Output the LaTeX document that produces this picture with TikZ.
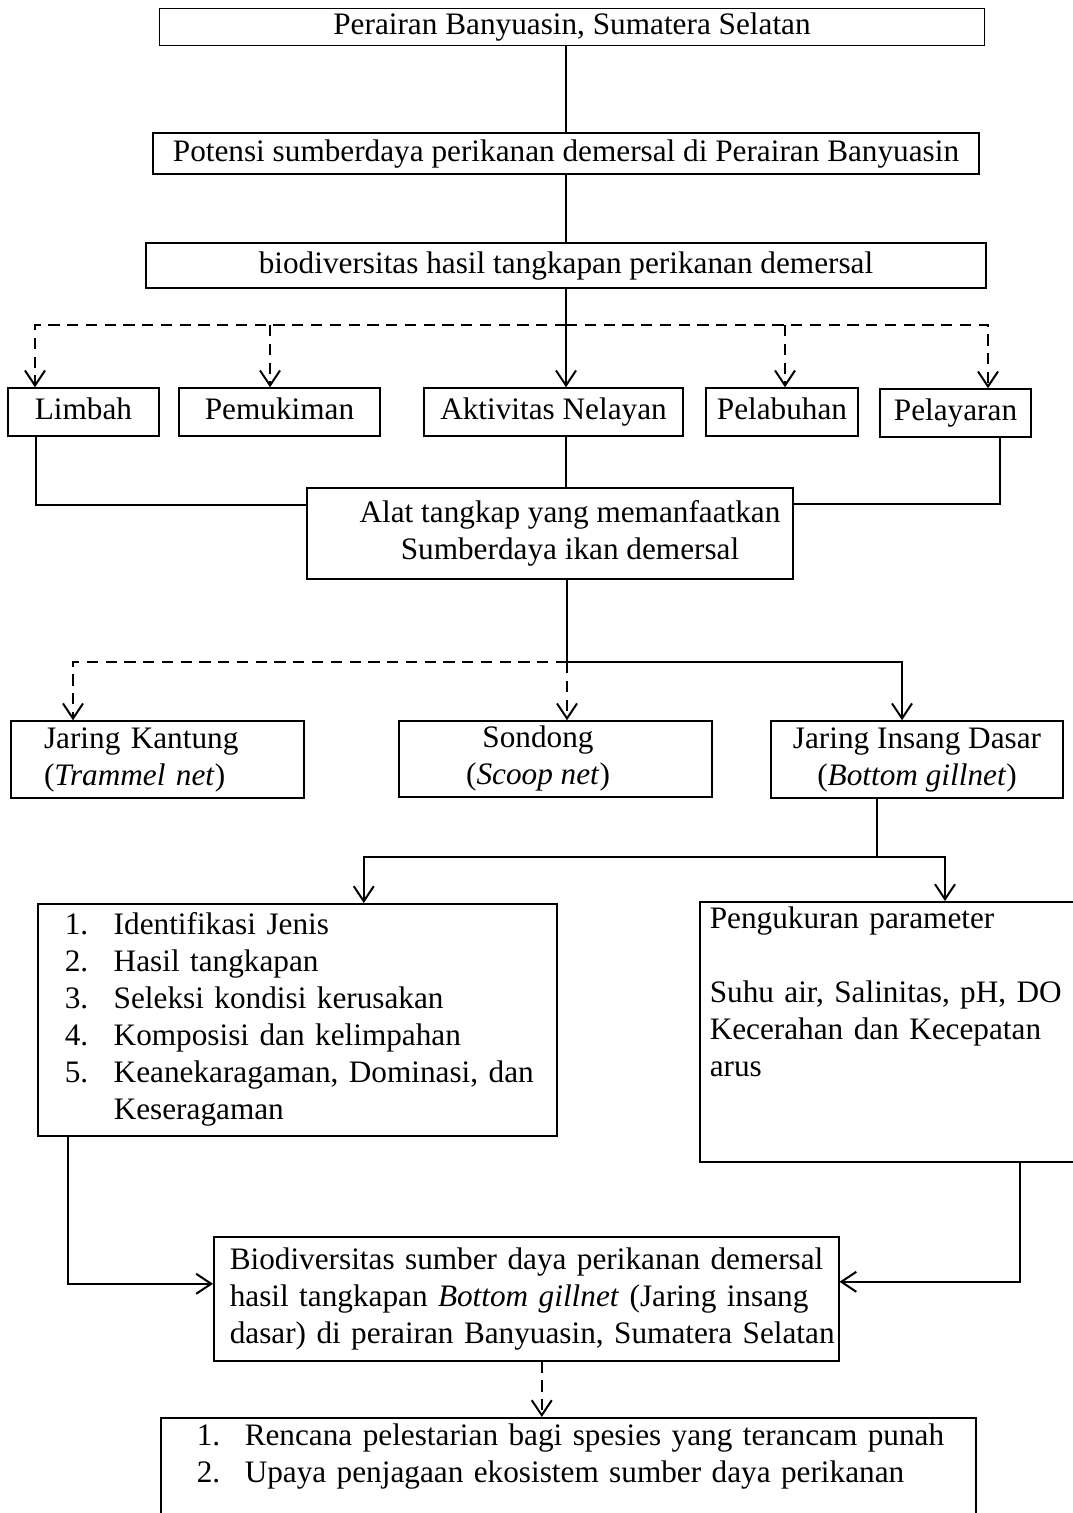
\documentclass[tikz,border=0pt]{standalone}
\usepackage{fontspec}
\setmainfont{Liberation Serif}
\usetikzlibrary{arrows.meta}

\begin{document}
\begin{tikzpicture}[x=0.4pt, y=-0.4pt, >={Straight Barb[length=6pt,width=8pt]}, font=\fontsize{12.5}{14.8}\selectfont]
    \tikzstyle{box} = [rectangle, draw, line width=0.6pt, inner sep=0pt, text centered]
    \tikzstyle{rowbox} = [box, text height=9pt, text depth=3pt]
    \tikzstyle{line} = [draw, line width=0.8pt]
    \tikzstyle{dline} = [draw, line width=0.8pt, dash pattern=on 4.5pt off 3pt]

    \path[use as bounding box, clip] (0,0) rectangle (1073,1513);

    \node[rowbox, minimum width=330pt, minimum height=14.8pt] (perairan) at (572,27) {Perairan Banyuasin, Sumatera Selatan};
    \node[rowbox, minimum width=330.4pt, minimum height=16.4pt] (potensi) at (566,153.5) {Potensi sumberdaya perikanan demersal di Perairan Banyuasin};
    \node[rowbox, minimum width=336pt, minimum height=18pt] (biodiv) at (566,265.5) {biodiversitas hasil tangkapan perikanan demersal};

    \node[rowbox, minimum width=60.4pt, minimum height=19.2pt] (limbah) at (83.5,412) {Limbah};
    \node[rowbox, minimum width=80.4pt, minimum height=19.2pt] (pemukiman) at (279.5,412) {Pemukiman};
    \node[rowbox, minimum width=103.6pt, minimum height=19.2pt] (aktivitas) at (553.5,412) {Aktivitas Nelayan};
    \node[rowbox, minimum width=60.8pt, minimum height=19.2pt] (pelabuhan) at (782,412) {Pelabuhan};
    \node[rowbox, minimum width=60.4pt, minimum height=19.2pt] (pelayaran) at (955.5,413) {Pelayaran};

    \node[box, minimum width=194.4pt, minimum height=36.4pt] (alat) at (550,533.5)
        {\begin{tabular}{@{\hspace{16pt}}c@{}}Alat tangkap yang memanfaatkan\\ Sumberdaya ikan demersal\end{tabular}};

    \node[box, minimum height=30.8pt, text width=90.8pt, inner xsep=13.2pt, align=left] (kantung) at (157.5,759.5)
        {Jaring Kantung\\ (\textit{Trammel net})};
    \node[box, minimum width=125.2pt, minimum height=30.4pt] (sondong) at (555.5,759)
        {\begin{tabular}{@{}c@{\hspace{14pt}}}Sondong\\ (\textit{Scoop net})\end{tabular}};
    \node[box, minimum width=116.8pt, minimum height=30.8pt, align=center] (insang) at (917,759.5)
        {Jaring Insang Dasar\\ (\textit{Bottom gillnet})};

    \node[box, anchor=north west, minimum height=92.8pt, text width=207.6pt, align=left] (identifikasi) at (37,903)
        {\begin{tabular}{@{\hspace{10.8pt}}p{19.6pt}@{}l@{}}
        1. & Identifikasi Jenis\\
        2. & Hasil tangkapan\\
        3. & Seleksi kondisi kerusakan\\
        4. & Komposisi dan kelimpahan\\
        5. & Keanekaragaman, Dominasi, dan\\
           & Keseragaman
        \end{tabular}};
    \node[box, anchor=north west, minimum height=104pt, text width=156pt, inner xsep=4pt, align=left] (parameter) at (699,901)
        {\begin{tabular}{@{}l@{}}
        Pengukuran parameter\\
        \\
        Suhu air, Salinitas, pH, DO\\
        Kecerahan dan Kecepatan\\
        arus\\
        \\
        \\
        \end{tabular}};

    \node[box, anchor=north west, minimum height=49.6pt, text width=250pt, align=left] (hasil) at (213,1236)
        {\begin{tabular}{@{\hspace{6.4pt}}l@{}}
        Biodiversitas sumber daya perikanan demersal\\
        hasil tangkapan \textit{Bottom gillnet} (Jaring insang\\
        dasar) di perairan Banyuasin, Sumatera Selatan
        \end{tabular}};
    \node[box, anchor=north west, minimum height=45.6pt, text width=326pt, align=left] (rencana) at (160,1417)
        {\begin{tabular}{@{\hspace{14.4pt}}p{19.2pt}@{}l@{}}
        1. & Rencana pelestarian bagi spesies yang terancam punah\\
        2. & Upaya penjagaan ekosistem sumber daya perikanan\\
           & \\
        \end{tabular}};

    \coordinate (cabang) at (566,325);
    \coordinate (cabang2) at (567,662);
    \coordinate (cabang3) at (877,857);
    \coordinate (lm) at ([xshift=-19.4pt]limbah.north);
    \coordinate (pm) at ([xshift=-3.8pt]pemukiman.north);
    \coordinate (pb) at ([xshift=1.2pt]pelabuhan.north);
    \coordinate (py) at ([xshift=13pt]pelayaran.north);
    \coordinate (rc) at ([xshift=-10.6pt]rencana.north);

    \draw[line] (potensi.north |- perairan.south) -- (potensi.north);
    \draw[line] (potensi) -- (biodiv);
    \draw[line, ->] (biodiv.south) -- (biodiv.south |- aktivitas.north);
    \draw[dline, ->] (cabang) -| (lm);
    \draw[dline, ->] (cabang) -| (py);
    \draw[dline, ->] (pm |- cabang) -- (pm);
    \draw[dline, ->] (pb |- cabang) -- (pb);

    \draw[line] ([xshift=-19pt]limbah.south) |- ([yshift=11.4pt]alat.west);
    \draw[line] (biodiv.south |- aktivitas.south) -- (biodiv.south |- alat.north);
    \draw[line] ([xshift=17.8pt]pelayaran.south) |- ([yshift=12pt]alat.east);

    \draw[line] (cabang2 |- alat.south) -- (cabang2);
    \draw[dline, ->] (cabang2) -| ([xshift=-33.8pt]kantung.north);
    \draw[dline, ->] (cabang2) -- (cabang2 |- sondong.north);
    \draw[line, ->] (cabang2) -| ([xshift=-6pt]insang.north);

    \draw[line] (cabang3 |- insang.south) -- (cabang3);
    \draw[line, ->] (cabang3) -| ([xshift=26.6pt]identifikasi.north);
    \draw[line, ->] (cabang3) -| ([xshift=98.4pt]parameter.north west);

    \draw[line, ->] ([xshift=12.4pt]identifikasi.south west) |- ([yshift=6pt]hasil.west);
    \draw[line, ->] ([xshift=128.4pt]parameter.south west) |- ([yshift=6.8pt]hasil.east);
    \draw[dline, ->] (rc |- hasil.south) -- (rc);
\end{tikzpicture}
\end{document}
